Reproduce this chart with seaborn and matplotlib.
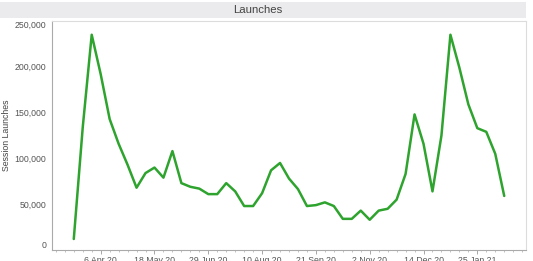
import matplotlib
matplotlib.use("Agg")
import matplotlib.pyplot as plt
import matplotlib.dates as mdates
import matplotlib.ticker as mticker
from matplotlib.patches import Rectangle
import seaborn as sns
import pandas as pd

# ---- data ----
start_week = "2020-03-16"
n_weeks = 49
launches = [12000, 134000, 235000, 192000, 143000, 116000, 93000, 68000, 84000, 90000,
            79000, 108000, 73000, 69000, 67000, 61000, 61000, 73000, 64000, 48000,
            48000, 62000, 87000, 95000, 78000, 66500, 48000, 49000, 52000, 48000,
            34000, 34000, 43000, 33000, 43000, 45000, 55000, 83000, 148000, 116000,
            64000, 125000, 235000, 199000, 159000, 133000, 129000, 105000, 59000]
tick_dates = ["2020-04-06", "2020-05-18", "2020-06-29", "2020-08-10",
              "2020-09-21", "2020-11-02", "2020-12-14", "2021-01-25"]
tick_labels = ["6 Apr 20", "18 May 20", "29 Jun 20", "10 Aug 20",
               "21 Sep 20", "2 Nov 20", "14 Dec 20", "25 Jan 21"]
y_ticks = [0, 50000, 100000, 150000, 200000, 250000]
title = "Launches"
y_label = "Session Launches"

dates = pd.date_range(start_week, periods=n_weeks, freq="7D")
df = pd.DataFrame({"week": dates, "launches": launches})

sns.set_theme(style="white")
plt.rcParams["font.family"] = ["Liberation Sans", "DejaVu Sans"]

W, H = 533, 261
fig = plt.figure(figsize=(W / 100, H / 100), dpi=100)
ax = fig.add_axes([52 / W, 1 - 250 / H, (526 - 52) / W, (250 - 21) / H])

sns.lineplot(data=df, x="week", y="launches", ax=ax, color="#2ea32e", linewidth=1.8)

ax.set_xlim(pd.Timestamp("2020-02-28"), pd.Timestamp("2021-03-04"))
ax.set_ylim(0, 250000)

ax.set_xticks([pd.Timestamp(d) for d in tick_dates])
ax.set_xticklabels(tick_labels)
ax.xaxis.set_minor_locator(mdates.WeekdayLocator(byweekday=mdates.MO))
ax.set_yticks(y_ticks)
ax.yaxis.set_major_formatter(mticker.FuncFormatter(lambda v, p: f"{int(v):,}"))

ax.tick_params(axis="x", which="major", length=3, width=0.6, color="#999999",
               labelsize=6.3, labelcolor="#555555", pad=1.5, bottom=True)
ax.tick_params(axis="x", which="minor", length=1.5, width=0.5, color="#aaaaaa", bottom=True)
ax.tick_params(axis="y", length=0, labelsize=6.3, labelcolor="#555555", pad=4.3)

labels = ax.get_yticklabels()
labels[0].set_va("bottom")
labels[-1].set_va("top")

ax.set_xlabel("")
ax.set_ylabel(y_label, fontsize=6.3, color="#444444")
ax.yaxis.set_label_coords(-0.086, 0.5)

for side in ["top", "right"]:
    ax.spines[side].set_color("#dcdcdc")
    ax.spines[side].set_linewidth(0.8)
for side in ["left", "bottom"]:
    ax.spines[side].set_color("#aaaaaa")
    ax.spines[side].set_linewidth(0.8)
ax.grid(False)

# title band
fig.patches.append(Rectangle((0, 1 - 17.5 / H), 526 / W, 15.5 / H, transform=fig.transFigure,
                             facecolor="#ebebed", edgecolor="none", zorder=0))
fig.text(258 / W, 1 - 10 / H, title, ha="center", va="center", fontsize=8.2, color="#444444")

fig.savefig("out.png", dpi=100)
